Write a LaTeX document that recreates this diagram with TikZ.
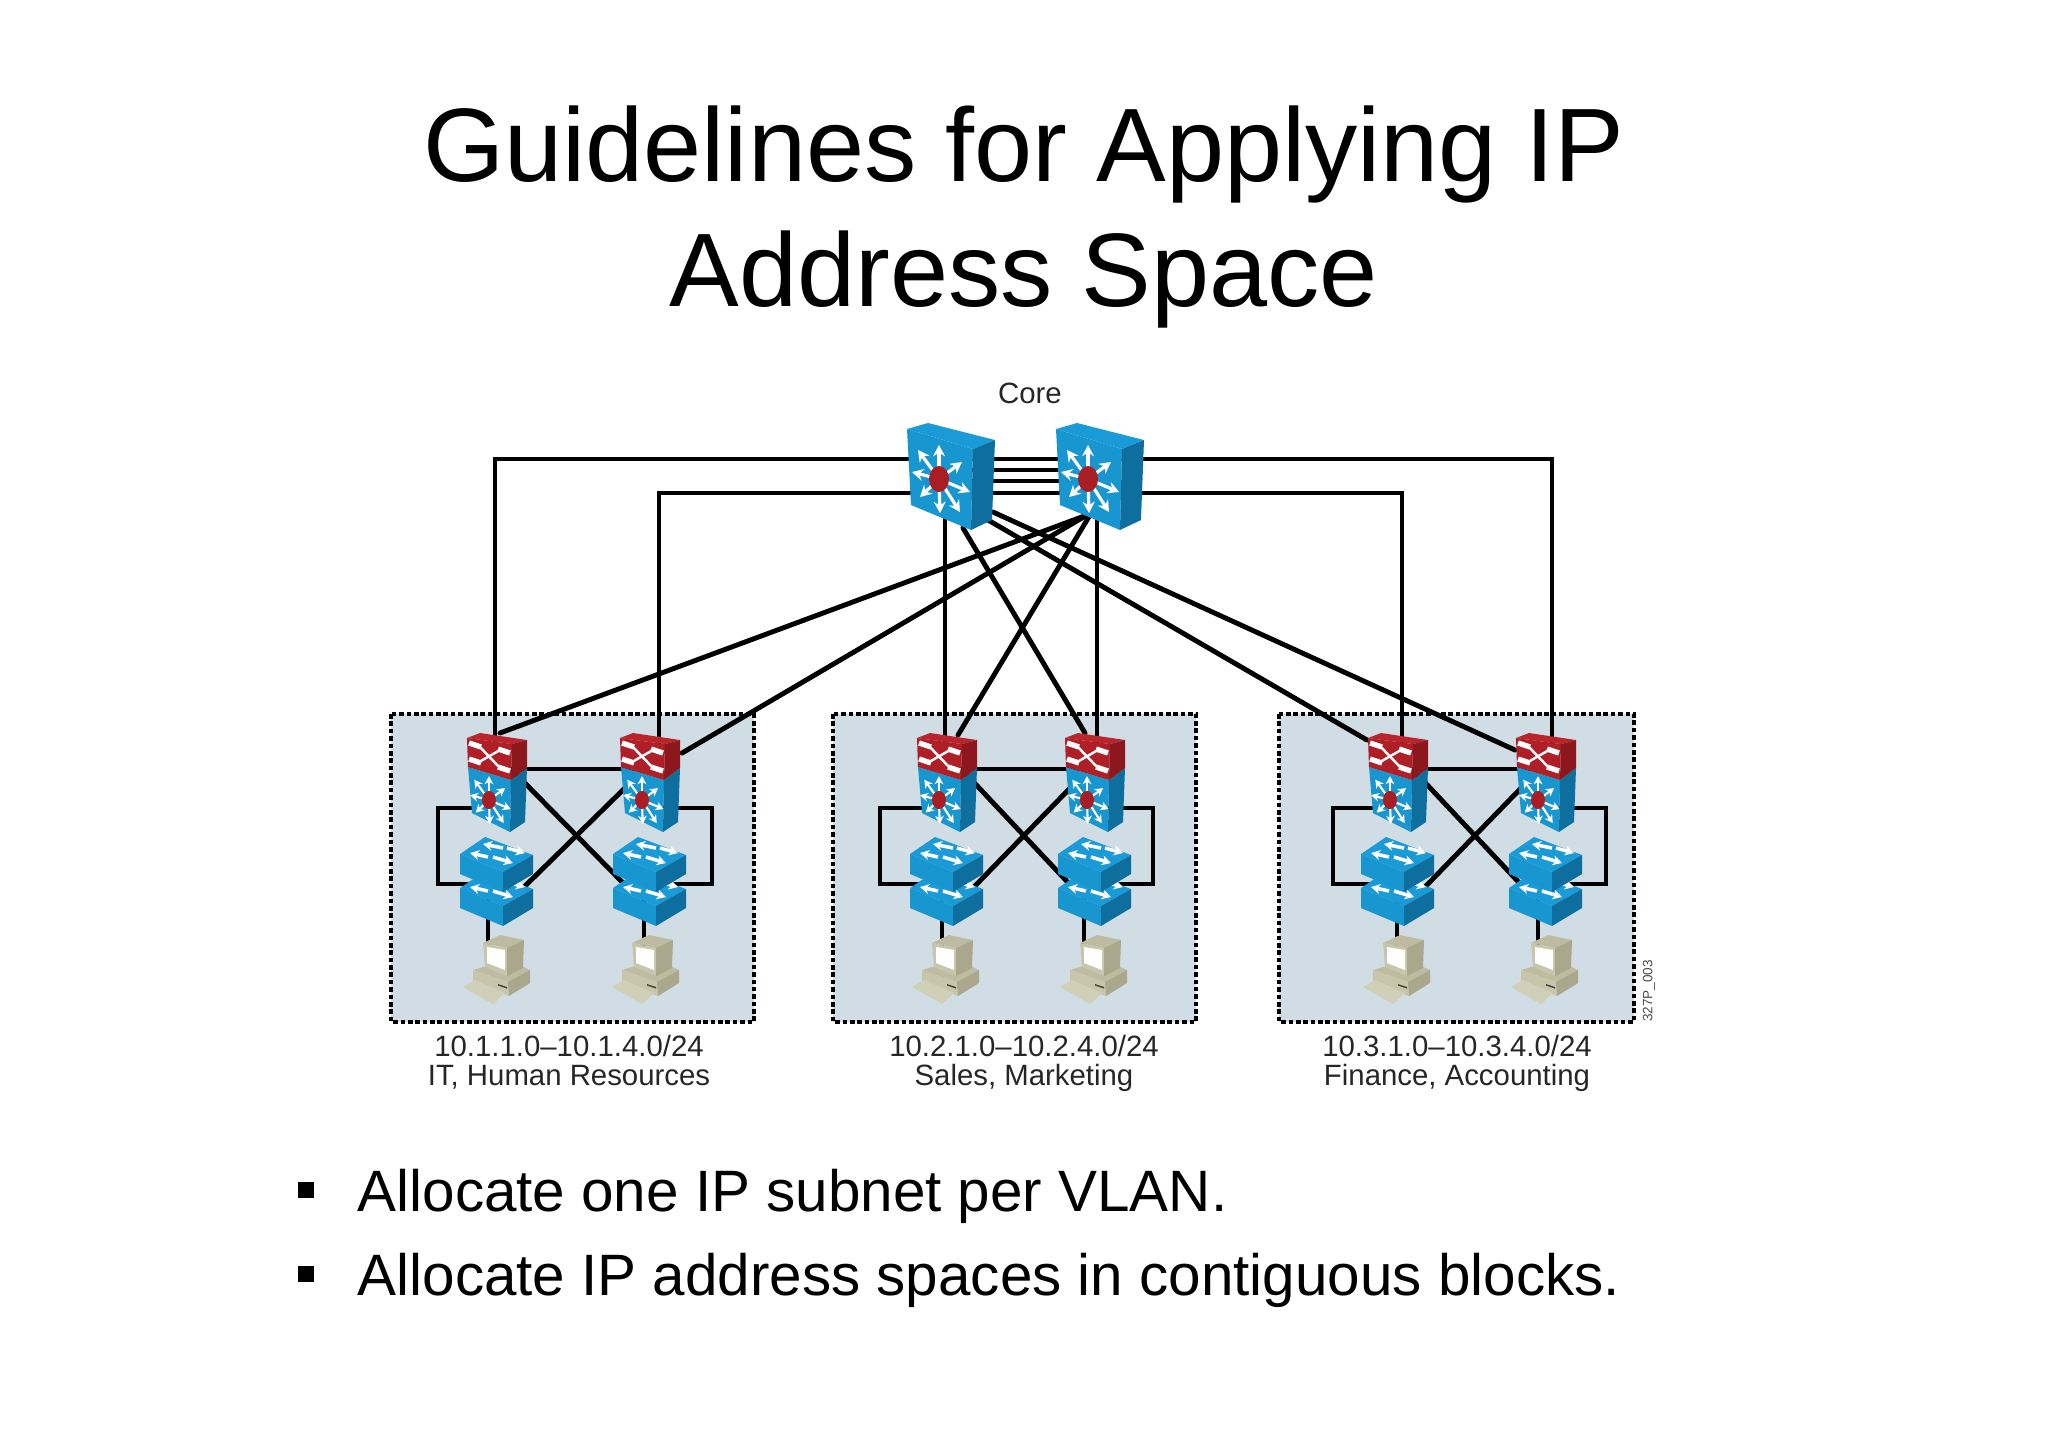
\documentclass[tikz,border=0pt]{standalone}
\usepackage{fontspec}
\usetikzlibrary{arrows.meta}
\setmainfont{Liberation Sans}

\definecolor{blueface}{RGB}{24,150,208}
\definecolor{blueside}{RGB}{14,110,158}
\definecolor{bluetop}{RGB}{26,154,214}
\definecolor{redface}{RGB}{176,30,38}
\definecolor{redside}{RGB}{140,24,30}
\definecolor{redtop}{RGB}{186,36,44}
\definecolor{hubred}{RGB}{168,30,36}
\definecolor{areafill}{RGB}{209,221,228}
\definecolor{pcface}{RGB}{200,198,170}
\definecolor{pcside}{RGB}{170,167,140}
\definecolor{pctop}{RGB}{190,188,160}

\tikzset{
    link/.style={line width=1.4pt, line cap=round, line join=miter},
    area/.style={fill=areafill, draw=black, line width=1.1pt, dash pattern=on 1.3pt off 0.8pt},
    titletext/.style={font=\fontsize{29.7}{35}\selectfont, anchor=base, inner sep=0pt},
    bullettext/.style={font=\fontsize{16.6}{20}\selectfont, anchor=base west, inner sep=0pt},
    smalltext/.style={font=\fontsize{8.35}{8.4}\selectfont, anchor=base, inner sep=0pt, text=black!85},
    bulletbox/.style={fill=black, minimum size=4.8pt, inner sep=0pt},
    ray/.style={draw=white, -{Stealth[length=3.2pt, width=3.4pt]}, line width=0.9pt},
    smallray/.style={draw=white, -{Stealth[length=2.3pt, width=2.5pt]}, line width=0.6pt},
    flatray/.style={draw=white, -{Stealth[length=2.6pt, width=2.8pt]}, line width=1pt},
    pics/hubstar/.style={code={
        \foreach \tipx/\tipy in {0/-34, 23/-17, 31/13, 21/33, 1/34, -19/18, -27/-7, -21/-29} {
            \draw[#1] (0,0) -- (\tipx,\tipy);
        }
        \fill[hubred] (0,0) ellipse (10 and 13);
    }},
    % core switch, origin at the hub
    pics/coreswitch/.style={code={
        \fill[bluetop] (-32,-50) -- (-11,-56) -- (56,-39) -- (34,-30) -- cycle;
        \fill[blueface] (-32,-50) -- (34,-30) -- (32,51) -- (-28,26) -- cycle;
        \fill[blueside] (34,-30) -- (56,-39) -- (53,41) -- (32,51) -- cycle;
        \pic {hubstar=ray};
    }},
    % router on top of a switch block, origin at the front top left corner
    pics/distblock/.style={code={
        \fill[blueface] (1,29) -- (44,42) -- (43,94) -- (5,75) -- cycle;
        \fill[blueside] (44,42) -- (60,30) -- (58,84) -- (43,94) -- cycle;
        \pic[scale=.7] at (22,62) {hubstar=smallray};
        \fill[redtop] (0,0) -- (13,-5) -- (60,2) -- (45,6) -- cycle;
        \fill[redface] (0,0) -- (45,6) -- (44,42) -- (1,29) -- cycle;
        \fill[redside] (45,6) -- (60,2) -- (60,30) -- (44,42) -- cycle;
        \draw[white, line width=0.7pt] (12,8) -- (33,30);
        \draw[white, line width=0.7pt] (33,12) -- (12,24);
        \foreach \ax/\ay/\bx/\by in {2/5/14/9, 31/11/43/15, 2/21/14/25, 31/29/43/33} {
            \draw[white, line width=1.5pt] (\ax,\ay) -- (\bx,\by);
        }
    }},
    % access switch, origin at the left corner of the top face
    pics/accessswitch/.style={code={
        \fill[bluetop] (0,0) -- (25,-17) -- (73,1) -- (43,18) -- cycle;
        \fill[blueface] (0,0) -- (43,18) -- (43,38) -- (0,20) -- cycle;
        \fill[blueside] (43,18) -- (73,1) -- (73,20) -- (43,38) -- cycle;
        \foreach \ax/\ay/\bx/\by in {43/-6/23/-10, 47/-6/65/-1, 28/3/10/-1, 33/3/53/9} {
            \draw[flatray] (\ax,\ay) -- (\bx,\by);
        }
    }},
    % workstation
    pics/workstation/.style={code={
        \fill[pctop] (23,140) -- (57,130) -- (80,140) -- (58,152) -- cycle;
        \fill[pcface] (23,140) -- (58,152) -- (59,166) -- (23,153) -- cycle;
        \fill[pcside] (58,152) -- (80,140) -- (80,153) -- (59,166) -- cycle;
        \fill[pcface!85!white] (13,157) -- (25,150) -- (55,163) -- (43,174) -- cycle;
        \fill[black!75] (48,154) -- (57,157) -- (57,158.5) -- (48,155.5) -- cycle;
        \fill[pctop] (33,113) -- (50,105) -- (74,110) -- (57,118) -- cycle;
        \fill[pcface] (33,113) -- (57,118) -- (57,146) -- (35,137) -- cycle;
        \fill[pcside] (57,118) -- (74,110) -- (73,138) -- (57,146) -- cycle;
        \fill[white] (37,117) -- (55,120) -- (55,140) -- (37,133) -- cycle;
    }},
}

\begin{document}
\begin{tikzpicture}[x=0.01cm, y=-0.01cm]

\useasboundingbox (0,0) rectangle (2048,1447);

% Title
\node[titletext] (title1) at (1024,181) {Guidelines for Applying IP};
\node[titletext] (title2) at (1024,306) {Address Space};

% Shaded areas
\draw[area] (391,714) rectangle (754,1022);
\draw[area] (833,714) rectangle (1196,1022);
\draw[area] (1279,714) rectangle (1634,1022);

% Core
\node[smalltext] (corelabel) at (1030,403) {Core};
\coordinate (coreA) at (939,479);
\coordinate (coreB) at (1088,479);

% Core ports
\foreach \y in {459,470,481,493} {
    \coordinate (pa\y) at (939,\y);
    \coordinate (pb\y) at (1088,\y);
    \draw[link] (pa\y) -- (pb\y);
}
\coordinate (downA) at (988,520);
\coordinate (downAA) at (993,512);
\coordinate (downAB) at (963,528);
\coordinate (downB) at (1087,515);
\coordinate (downBB) at (1093,510);

% Router ports
\coordinate (u1a) at (495,745);
\coordinate (u1b) at (659,745);
\coordinate (u2a) at (945,745);
\coordinate (u2b) at (1097,745);
\coordinate (u3a) at (1402,745);
\coordinate (u3b) at (1552,745);
\coordinate (d1a) at (500,733);
\coordinate (d1b) at (682,753);
\coordinate (d2a) at (958,735);
\coordinate (d2b) at (1085,733);
\coordinate (d3a) at (1367,740);
\coordinate (d3b) at (1515,750);

% Core to distribution links
\draw[link] (u1a) |- (pa459);
\draw[link] (u1b) |- (pa493);
\draw[link] (u3a) |- (pb493);
\draw[link] (u3b) |- (pb459);
\draw[link] (u2a) -- (u2a |- coreA);
\draw[link] (u2b) -- (u2b |- coreB);
\draw[link] (downB) -- (d1a);
\draw[link] (downB) -- (d1b);
\draw[link] (downBB) -- (d2a);
\draw[link] (downAB) -- (d2b);
\draw[link] (downA) -- (d3a);
\draw[link] (downAA) -- (d3b);

% One block per area: router x, loop x, workstation x, drop x
\foreach \g/\xa/\xb/\la/\lb/\pa/\pb/\ka/\kb in {
    1/467/620/438/712/450/599/488/644,
    2/917/1065/880/1153/899/1047/942/1084,
    3/1368/1516/1333/1606/1350/1498/1397/1538} {

    \coordinate (r\g a) at ({\xa+30},769);
    \coordinate (r\g b) at ({\xb+30},769);
    \coordinate (m\g a) at ({\xa+30},808);
    \coordinate (m\g b) at ({\xb+30},808);
    \coordinate (s\g a) at ({\xa+30},884);
    \coordinate (s\g b) at ({\xb+30},884);
    \coordinate (l\g a) at (\la,846);
    \coordinate (l\g b) at (\lb,846);
    \coordinate (x\g a) at ({\xa+50},775);
    \coordinate (x\g b) at ({\xb+10},783);
    \coordinate (y\g a) at ({\xa+54},890);
    \coordinate (y\g b) at ({\xb+10},890);
    \coordinate (k\g a) at (\ka,900);
    \coordinate (k\g b) at (\kb,900);
    \coordinate (t\g a) at (\ka,950);
    \coordinate (t\g b) at (\kb,950);

    \draw[link] (r\g a) -- (r\g b);
    \draw[link] (x\g a) -- (y\g b);
    \draw[link] (x\g b) -- (y\g a);
    \draw[link] (m\g a) -- (l\g a |- m\g a) -- (l\g a |- s\g a) -- (s\g a);
    \draw[link] (m\g b) -- (l\g b |- m\g b) -- (l\g b |- s\g b) -- (s\g b);
    \draw[link] (k\g a) -- (t\g a);
    \draw[link] (k\g b) -- (t\g b);

    \foreach \c in {\xa,\xb} {
        \pic at ({\c-7},888) {accessswitch};
        \pic at ({\c-7},854) {accessswitch};
        \pic at (\c,738) {distblock};
    }
    \pic at (\pa,830) {workstation};
    \pic at (\pb,830) {workstation};
}

\pic at (coreA) {coreswitch};
\pic at (coreB) {coreswitch};

% Area labels
\node[smalltext] (net1) at (569,1056) {10.1.1.0--10.1.4.0/24};
\node[smalltext] (dep1) at (569,1085) {IT, Human Resources};
\node[smalltext] (net2) at (1024,1056) {10.2.1.0--10.2.4.0/24};
\node[smalltext] (dep2) at (1024,1085) {Sales, Marketing};
\node[smalltext] (net3) at (1457,1056) {10.3.1.0--10.3.4.0/24};
\node[smalltext] (dep3) at (1457,1085) {Finance, Accounting};
\node[font=\fontsize{3.85}{4}\selectfont, rotate=90, text=black!70] (figid) at (1649,991) {327P\_003};

% Bullets
\node[bulletbox] (b1) at (306,1190) {};
\node[bulletbox] (b2) at (306,1274) {};
\node[bullettext] (item1) at (357,1211) {Allocate one IP subnet per VLAN.};
\node[bullettext] (item2) at (357,1295) {Allocate IP address spaces in contiguous blocks.};

\end{tikzpicture}
\end{document}
